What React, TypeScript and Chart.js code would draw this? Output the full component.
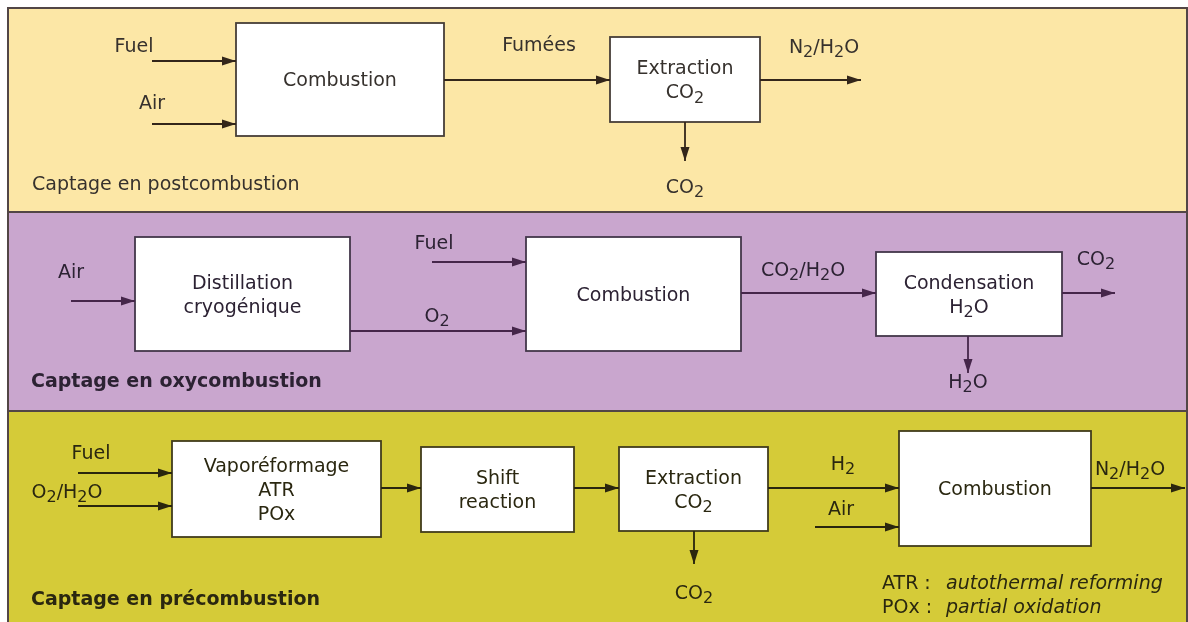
import { useEffect, useRef } from "react";
import { Chart, registerables } from "chart.js";
Chart.register(...registerables);

const W = 1188;
const H = 622;

// Panels (bands)
const panelCaptions = ["Captage en postcombustion", "Captage en oxycombustion", "Captage en précombustion"];
const panelTop = [8, 212, 411];
const panelBottom = [212, 411, 640];
const panelFill = ["#fce7a6", "#c9a6ce", "#d5cb38"];
const captionBold = [false, true, true];
const captionX = [32, 31, 31];
const captionY = [185, 382, 600];
const inkColor = ["#36312d", "#2c2233", "#2a2710"];
const arrowColor = ["#33261a", "#45264a", "#2a260e"];
const boxStroke = ["#463e38", "#43374a", "#423c1c"];

// Boxes: x0, x1, y0, y1, text lines
const boxPanel = [0, 0, 1, 1, 1, 2, 2, 2, 2];
const boxX0 = [236, 610, 135, 526, 876, 172, 421, 619, 899];
const boxX1 = [444, 760, 350, 741, 1062, 381, 574, 768, 1091];
const boxY0 = [23, 37, 237, 237, 252, 441, 447, 447, 431];
const boxY1 = [136, 122, 351, 351, 336, 537, 532, 531, 546];
const boxText = [
  ["Combustion"],
  ["Extraction", "CO_2"],
  ["Distillation", "cryogénique"],
  ["Combustion"],
  ["Condensation", "H_2O"],
  ["Vaporéformage", "ATR", "POx"],
  ["Shift", "reaction"],
  ["Extraction", "CO_2"],
  ["Combustion"],
];

// Arrows: x0, y0 -> x1, y1 (head at end)
const arrowPanel = [0, 0, 0, 0, 0, 1, 1, 1, 1, 1, 1, 2, 2, 2, 2, 2, 2, 2, 2];
const arrowX0 = [152, 152, 444, 760, 685, 71, 432, 350, 741, 1062, 968, 78, 78, 381, 574, 768, 815, 1091, 694];
const arrowY0 = [61, 124, 80, 80, 122, 301, 262, 331, 293, 293, 336, 473, 506, 488, 488, 488, 527, 488, 531];
const arrowX1 = [236, 236, 610, 861, 685, 135, 526, 526, 876, 1115, 968, 172, 172, 421, 619, 899, 899, 1185, 694];
const arrowY1 = [61, 124, 80, 80, 161, 301, 262, 331, 293, 293, 373, 473, 506, 488, 488, 488, 527, 488, 564];

// Free labels
const labelPanel = [0, 0, 0, 0, 0, 1, 1, 1, 1, 1, 1, 2, 2, 2, 2, 2, 2, 2, 2, 2, 2];
const labelText = [
  "Fuel", "Air", "Fumées", "N_2/H_2O", "CO_2",
  "Air", "Fuel", "O_2", "CO_2/H_2O", "CO_2", "H_2O",
  "Fuel", "O_2/H_2O", "H_2", "Air", "N_2/H_2O", "CO_2",
  "ATR :", "autothermal reforming", "POx :", "partial oxidation",
];
const labelX = [134, 152, 539, 824, 685, 71, 434, 437, 803, 1096, 968, 91, 67, 843, 841, 1130, 694, 882, 946, 882, 946];
const labelY = [47, 104, 46, 48, 188, 273, 244, 317, 271, 260, 383, 454, 493, 465, 510, 470, 594, 584, 584, 608, 608];
const labelAlign = ["c", "c", "c", "c", "c", "c", "c", "c", "c", "c", "c", "c", "c", "c", "c", "c", "c", "l", "l", "l", "l"];
const labelItalic = [0, 0, 0, 0, 0, 0, 0, 0, 0, 0, 0, 0, 0, 0, 0, 0, 0, 0, 1, 0, 1];

const FONT = '"DejaVu Sans", Verdana, sans-serif';
const FS = 19;
const BOX_TEXT_SHIFT = 2;

function parseRich(t: string) {
  const parts: { s: string; sub: boolean }[] = [];
  const re = /_(\d)/g;
  let last = 0;
  let m: RegExpExecArray | null;
  while ((m = re.exec(t))) {
    if (m.index > last) parts.push({ s: t.slice(last, m.index), sub: false });
    parts.push({ s: m[1], sub: true });
    last = m.index + m[0].length;
  }
  if (last < t.length) parts.push({ s: t.slice(last), sub: false });
  return parts;
}

function drawRich(ctx: CanvasRenderingContext2D, t: string, x: number, y: number, align: string, style: string, color: string) {
  const parts = parseRich(t);
  const fMain = `${style} ${FS}px ${FONT}`;
  const fSub = `${style} ${FS - 3}px ${FONT}`;
  let w = 0;
  for (const p of parts) {
    ctx.font = p.sub ? fSub : fMain;
    w += ctx.measureText(p.s).width;
  }
  let cx = align === "c" ? x - w / 2 : x;
  ctx.fillStyle = color;
  ctx.textBaseline = "middle";
  ctx.textAlign = "left";
  for (const p of parts) {
    ctx.font = p.sub ? fSub : fMain;
    ctx.fillText(p.s, cx, p.sub ? y + 5 : y);
    cx += ctx.measureText(p.s).width;
  }
}

const diagramPlugin = {
  id: "diagram",
  beforeDatasetsDraw(chart: any) {
    const { ctx, scales } = chart;
    const px = (v: number) => scales.x.getPixelForValue(v);
    const py = (v: number) => scales.y.getPixelForValue(v);
    ctx.save();
    ctx.fillStyle = "#ffffff";
    ctx.fillRect(0, 0, chart.width, chart.height);
    panelTop.forEach((t, i) => {
      ctx.fillStyle = panelFill[i];
      ctx.fillRect(px(8), py(t), px(1187) - px(8), py(panelBottom[i]) - py(t));
    });
    ctx.strokeStyle = "#524646";
    ctx.lineWidth = 2;
    panelTop.forEach((t, i) => {
      ctx.strokeRect(px(8), py(t), px(1187) - px(8), py(panelBottom[i]) - py(t));
    });
    boxX0.forEach((x0, i) => {
      const x = px(x0), y = py(boxY0[i]);
      const w = px(boxX1[i]) - x, h = py(boxY1[i]) - y;
      ctx.fillStyle = "#ffffff";
      ctx.fillRect(x, y, w, h);
      ctx.strokeStyle = boxStroke[boxPanel[i]];
      ctx.lineWidth = 1.8;
      ctx.strokeRect(x, y, w, h);
    });
    ctx.restore();
  },
  afterDatasetsDraw(chart: any) {
    const { ctx, scales } = chart;
    const px = (v: number) => scales.x.getPixelForValue(v);
    const py = (v: number) => scales.y.getPixelForValue(v);
    ctx.save();
    arrowX0.forEach((_, i) => {
      const x0 = px(arrowX0[i]), y0 = py(arrowY0[i]);
      const x1 = px(arrowX1[i]), y1 = py(arrowY1[i]);
      const a = Math.atan2(y1 - y0, x1 - x0);
      const L = 14, hw = 4.5;
      ctx.fillStyle = arrowColor[arrowPanel[i]];
      ctx.beginPath();
      ctx.moveTo(x1, y1);
      ctx.lineTo(x1 - L * Math.cos(a) + hw * Math.sin(a), y1 - L * Math.sin(a) - hw * Math.cos(a));
      ctx.lineTo(x1 - L * Math.cos(a) - hw * Math.sin(a), y1 - L * Math.sin(a) + hw * Math.cos(a));
      ctx.closePath();
      ctx.fill();
    });
    boxText.forEach((lines, i) => {
      const cx = (boxX0[i] + boxX1[i]) / 2;
      const cy = (boxY0[i] + boxY1[i]) / 2 + BOX_TEXT_SHIFT;
      const n = lines.length;
      lines.forEach((ln, k) => {
        const yy = cy + (k - (n - 1) / 2) * 24;
        drawRich(ctx, ln, px(cx), py(yy), "c", "normal", inkColor[boxPanel[i]]);
      });
    });
    labelText.forEach((t, i) => {
      drawRich(ctx, t, px(labelX[i]), py(labelY[i]), labelAlign[i], labelItalic[i] ? "italic" : "normal", inkColor[labelPanel[i]]);
    });
    panelCaptions.forEach((t, i) => {
      drawRich(ctx, t, px(captionX[i]), py(captionY[i]), "l", captionBold[i] ? "bold" : "normal", inkColor[i]);
    });
    ctx.restore();
  },
};

export default function App() {
  const ref = useRef<HTMLCanvasElement>(null);
  useEffect(() => {
    if (!ref.current) return;
    const datasets = arrowX0.map((_, i) => ({
      data: [
        { x: arrowX0[i], y: arrowY0[i] },
        { x: arrowX1[i], y: arrowY1[i] },
      ],
      showLine: true,
      borderColor: arrowColor[arrowPanel[i]],
      borderWidth: 1.8,
      pointRadius: 0,
      clip: false as any,
    }));
    const chart = new Chart(ref.current, {
      type: "scatter",
      data: { datasets },
      options: {
        animation: false,
        responsive: false,
        devicePixelRatio: 1,
        events: [],
        layout: { padding: 0 },
        plugins: { legend: { display: false }, tooltip: { enabled: false } },
        scales: {
          x: { type: "linear", min: 0, max: W, display: false },
          y: { type: "linear", min: 0, max: H, reverse: true, display: false },
        },
      },
      plugins: [diagramPlugin],
    });
    return () => chart.destroy();
  }, []);
  return (
    <canvas
      ref={ref}
      width={W}
      height={H}
      style={{ position: "fixed", left: 0, top: 0, width: W, height: H }}
    />
  );
}
